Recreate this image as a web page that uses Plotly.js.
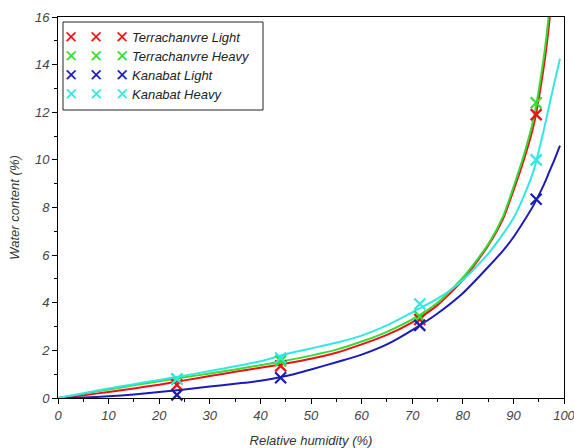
<!DOCTYPE html>
<html>
<head>
<meta charset="utf-8">
<script src="https://cdn.plot.ly/plotly-3.0.1.min.js"></script>
<style>html,body{margin:0;padding:0;background:#fff;}#chart{width:574px;height:448px;}</style>
</head>
<body>
<div id="chart"></div>
<script>
// ---- Data ----
const seriesNames = ["Terrachanvre Light", "Terrachanvre Heavy", "Kanabat Light", "Kanabat Heavy"];
const seriesColors = ["#ee1111", "#33dd33", "#1c1cb4", "#33e6e6"];

// measured points
const rhMeasured = [23.5, 44, 71.5, 94.5];
const terraLight = [0.55, 1.35, 3.3, 11.9];
const terraHeavy = [0.8, 1.55, 3.42, 12.4];
const kanaLight = [0.13, 0.85, 3.05, 8.35];
const kanaHeavy = [0.8, 1.68, 3.95, 10.0];

// fitted curves
const rhFit = [0,5,10,15,20,25,30,35,40,45,50,55,60,65,70,75,80,85,88,90,92,94,96,97,98,99.2];
const terraLightFit = [0,0.12,0.25,0.4,0.56,0.74,0.92,1.1,1.27,1.45,1.65,1.9,2.25,2.65,3.18,3.9,4.95,6.4,7.55,8.7,9.95,11.45,13.9,15.6,17.8,21];
const terraHeavyFit = [0,0.18,0.36,0.53,0.7,0.87,1.03,1.2,1.38,1.57,1.78,2.03,2.37,2.78,3.3,4.0,5.05,6.45,7.65,8.85,10.15,11.75,14.3,16.1,18.5,22];
const kanaLightFit = [0,0.02,0.07,0.15,0.25,0.36,0.48,0.6,0.72,0.92,1.2,1.5,1.82,2.25,2.85,3.55,4.4,5.5,6.2,6.75,7.4,8.1,8.95,9.45,9.95,10.6];
const kanaHeavyFit = [0,0.2,0.4,0.58,0.76,0.94,1.13,1.33,1.54,1.84,2.08,2.32,2.62,3.05,3.6,4.17,4.95,6.05,6.9,7.55,8.45,9.55,11.25,12.2,13.15,14.25];

const xTickVals = [0,10,20,30,40,50,60,70,80,90,100];
const yTickVals = [0,2,4,6,8,10,12,14,16];

const measured = [terraLight, terraHeavy, kanaLight, kanaHeavy];
const fits = [terraLightFit, terraHeavyFit, kanaLightFit, kanaHeavyFit];

// ---- Traces ----
const traces = [];
fits.forEach((f, i) => {
  traces.push({
    x: rhFit, y: f, mode: 'lines', type: 'scatter',
    line: {color: seriesColors[i], width: 2, shape: 'spline', smoothing: 0.6},
    showlegend: false, hoverinfo: 'skip', cliponaxis: true
  });
});
measured.forEach((m, i) => {
  traces.push({
    x: rhMeasured, y: m, mode: 'markers', type: 'scatter', name: seriesNames[i],
    marker: {symbol: 'x-thin', size: 11, color: seriesColors[i], line: {color: seriesColors[i], width: 2.2}},
    showlegend: false, cliponaxis: false
  });
});

// ---- Custom legend (box + annotations) ----
const L = 58, R = 564, T = 17, B = 398;
const px = v => (v - L) / (R - L);
const py = v => (B - v) / (B - T);
const rows = [37, 56, 75, 94];
const markCols = [71, 96, 122];
const annotations = [];
seriesNames.forEach((n, i) => {
  markCols.forEach(c => {
    annotations.push({
      xref: 'paper', yref: 'paper', x: px(c), y: py(rows[i]), text: '✕', showarrow: false,
      xanchor: 'center', yanchor: 'middle',
      font: {family: 'DejaVu Sans', size: 17, color: seriesColors[i], weight: 'bold'}
    });
  });
  annotations.push({
    xref: 'paper', yref: 'paper', x: px(130), y: py(rows[i]), text: n, showarrow: false,
    xanchor: 'left', yanchor: 'middle',
    font: {family: 'Liberation Sans, Arial, sans-serif', size: 13, style: 'italic', color: '#222'}
  });
});

const tickFont = {family: 'Liberation Sans, Arial, sans-serif', size: 13, style: 'italic', color: '#444'};
const titleFont = {family: 'Liberation Sans, Arial, sans-serif', size: 13, style: 'italic', color: '#333'};

const layout = {
  width: 574, height: 448,
  margin: {l: L, r: 574 - R, t: T, b: 448 - B},
  paper_bgcolor: '#fff', plot_bgcolor: '#fff',
  showlegend: false,
  xaxis: {
    range: [0, 100], tickvals: xTickVals, ticks: 'outside', ticklen: 5, tickwidth: 1, tickcolor: '#000',
    showline: true, linecolor: '#000', linewidth: 1, mirror: true, showgrid: false, zeroline: false,
    tickfont: tickFont, ticklabeloverflow: 'allow',
    minor: {dtick: 5, ticks: 'outside', ticklen: 3, tickcolor: '#000', showgrid: false},
    title: {text: 'Relative humidity (%)', font: titleFont, standoff: 14}
  },
  yaxis: {
    range: [0, 16], tickvals: yTickVals, ticks: 'outside', ticklen: 5, tickwidth: 1, tickcolor: '#000',
    showline: true, linecolor: '#000', linewidth: 1, mirror: true, showgrid: false, zeroline: false,
    tickfont: tickFont, ticklabeloverflow: 'allow',
    minor: {dtick: 1, ticks: 'outside', ticklen: 3, tickcolor: '#000', showgrid: false},
    title: {text: 'Water content (%)', font: titleFont, standoff: 12}
  },
  shapes: [{
    type: 'rect', xref: 'paper', yref: 'paper',
    x0: px(63), x1: px(263), y0: py(110), y1: py(22),
    line: {color: '#222', width: 1}, fillcolor: 'rgba(255,255,255,0)'
  }],
  annotations: annotations
};

Plotly.newPlot('chart', traces, layout, {displayModeBar: false, staticPlot: true});
</script>
</body>
</html>
